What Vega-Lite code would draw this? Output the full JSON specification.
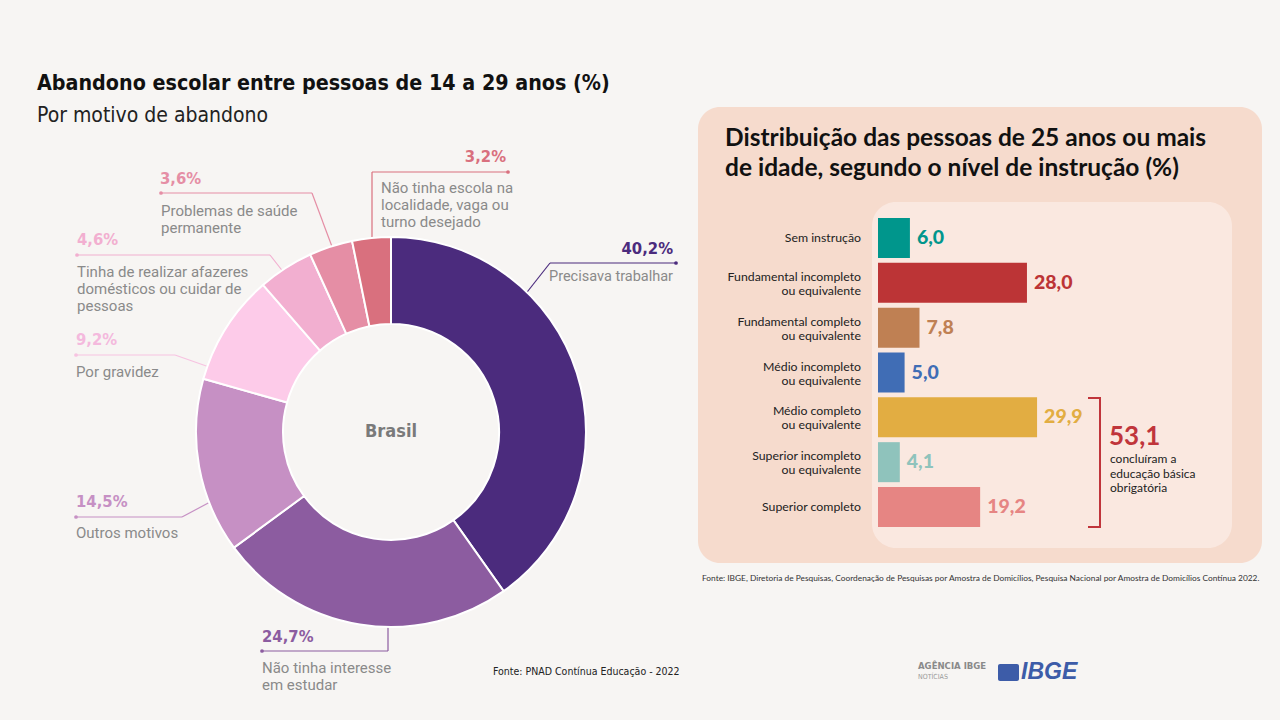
{
  "$schema": "https://vega.github.io/schema/vega-lite/v6.json",
  "width": 1280,
  "height": 720,
  "autosize": {"type": "fit", "contains": "padding"},
  "padding": 0,
  "background": "#f7f5f3",
  "config": {
    "view": {"stroke": null},
    "axis": {"disable": true},
    "legend": {"disable": true}
  },
  "datasets": {
    "motivos": [
      {"id": "trabalhar", "motivo": "Precisava trabalhar", "valor": 40.2, "ordem": 1, "rotulo": "40,2%", "descricao": "Precisava trabalhar"},
      {"id": "interesse", "motivo": "Não tinha interesse em estudar", "valor": 24.7, "ordem": 2, "rotulo": "24,7%", "descricao": "Não tinha interesse\nem estudar"},
      {"id": "outros", "motivo": "Outros motivos", "valor": 14.5, "ordem": 3, "rotulo": "14,5%", "descricao": "Outros motivos"},
      {"id": "gravidez", "motivo": "Por gravidez", "valor": 9.2, "ordem": 4, "rotulo": "9,2%", "descricao": "Por gravidez"},
      {"id": "afazeres", "motivo": "Tinha de realizar afazeres domésticos ou cuidar de pessoas", "valor": 4.6, "ordem": 5, "rotulo": "4,6%", "descricao": "Tinha de realizar afazeres\ndomésticos ou cuidar de\npessoas"},
      {"id": "saude", "motivo": "Problemas de saúde permanente", "valor": 3.6, "ordem": 6, "rotulo": "3,6%", "descricao": "Problemas de saúde\npermanente"},
      {"id": "escola", "motivo": "Não tinha escola na localidade, vaga ou turno desejado", "valor": 3.2, "ordem": 7, "rotulo": "3,2%", "descricao": "Não tinha escola na\nlocalidade, vaga ou\nturno desejado"}
    ],
    "niveis": [
      {"nivel": "Sem instrução", "valor": 6.0, "rotulo": "6,0"},
      {"nivel": "Fundamental incompleto\nou equivalente", "valor": 28.0, "rotulo": "28,0"},
      {"nivel": "Fundamental completo\nou equivalente", "valor": 7.8, "rotulo": "7,8"},
      {"nivel": "Médio incompleto\nou equivalente", "valor": 5.0, "rotulo": "5,0"},
      {"nivel": "Médio completo\nou equivalente", "valor": 29.9, "rotulo": "29,9"},
      {"nivel": "Superior incompleto\nou equivalente", "valor": 4.1, "rotulo": "4,1"},
      {"nivel": "Superior completo", "valor": 19.2, "rotulo": "19,2"}
    ]
  },
  "resolve": {"scale": {"x": "independent", "y": "independent", "color": "independent"}},
  "layer": [
    {
      "data": {"values": [{}]},
      "layer": [
        {"mark": {"type": "rect", "color": "#f6dbcd", "cornerRadius": 22},
         "encoding": {
           "x": {"datum": 698, "type": "quantitative", "scale": {"domain": [0, 1280], "nice": false, "zero": false}},
           "x2": {"datum": 1262},
           "y": {"datum": 107, "type": "quantitative", "scale": {"domain": [0, 720], "nice": false, "zero": false, "reverse": true}},
           "y2": {"datum": 563}}},
        {"mark": {"type": "rect", "color": "#fae8e0", "cornerRadius": 24},
         "encoding": {"x": {"datum": 872, "type": "quantitative"}, "x2": {"datum": 1232}, "y": {"datum": 202, "type": "quantitative"}, "y2": {"datum": 548}}},

        {"mark": {"type": "rule", "color": "#d9707e", "strokeWidth": 1.2}, "encoding": {"x": {"datum": 508, "type": "quantitative"}, "x2": {"datum": 372}, "y": {"datum": 172, "type": "quantitative"}, "y2": {"datum": 172}}},
        {"mark": {"type": "rule", "color": "#d9707e", "strokeWidth": 1.2}, "encoding": {"x": {"datum": 372, "type": "quantitative"}, "x2": {"datum": 372}, "y": {"datum": 172, "type": "quantitative"}, "y2": {"datum": 245}}},
        {"mark": {"type": "rule", "color": "#e58ea5", "strokeWidth": 1.2}, "encoding": {"x": {"datum": 161, "type": "quantitative"}, "x2": {"datum": 312}, "y": {"datum": 193, "type": "quantitative"}, "y2": {"datum": 193}}},
        {"mark": {"type": "rule", "color": "#e58ea5", "strokeWidth": 1.2}, "encoding": {"x": {"datum": 312, "type": "quantitative"}, "x2": {"datum": 334}, "y": {"datum": 193, "type": "quantitative"}, "y2": {"datum": 252}}},
        {"mark": {"type": "rule", "color": "#f2afd0", "strokeWidth": 1.2}, "encoding": {"x": {"datum": 77, "type": "quantitative"}, "x2": {"datum": 270}, "y": {"datum": 255, "type": "quantitative"}, "y2": {"datum": 255}}},
        {"mark": {"type": "rule", "color": "#f2afd0", "strokeWidth": 1.2}, "encoding": {"x": {"datum": 270, "type": "quantitative"}, "x2": {"datum": 288}, "y": {"datum": 255, "type": "quantitative"}, "y2": {"datum": 278}}},
        {"mark": {"type": "rule", "color": "#f7c3e1", "strokeWidth": 1.2}, "encoding": {"x": {"datum": 76, "type": "quantitative"}, "x2": {"datum": 175}, "y": {"datum": 355, "type": "quantitative"}, "y2": {"datum": 355}}},
        {"mark": {"type": "rule", "color": "#f7c3e1", "strokeWidth": 1.2}, "encoding": {"x": {"datum": 175, "type": "quantitative"}, "x2": {"datum": 212}, "y": {"datum": 355, "type": "quantitative"}, "y2": {"datum": 368}}},
        {"mark": {"type": "rule", "color": "#c690c4", "strokeWidth": 1.2}, "encoding": {"x": {"datum": 76, "type": "quantitative"}, "x2": {"datum": 182}, "y": {"datum": 517, "type": "quantitative"}, "y2": {"datum": 517}}},
        {"mark": {"type": "rule", "color": "#c690c4", "strokeWidth": 1.2}, "encoding": {"x": {"datum": 182, "type": "quantitative"}, "x2": {"datum": 212}, "y": {"datum": 517, "type": "quantitative"}, "y2": {"datum": 501}}},
        {"mark": {"type": "rule", "color": "#8c5ca0", "strokeWidth": 1.2}, "encoding": {"x": {"datum": 262, "type": "quantitative"}, "x2": {"datum": 388}, "y": {"datum": 651, "type": "quantitative"}, "y2": {"datum": 651}}},
        {"mark": {"type": "rule", "color": "#8c5ca0", "strokeWidth": 1.2}, "encoding": {"x": {"datum": 388, "type": "quantitative"}, "x2": {"datum": 388}, "y": {"datum": 651, "type": "quantitative"}, "y2": {"datum": 622}}},
        {"mark": {"type": "rule", "color": "#4b2b7d", "strokeWidth": 1.2}, "encoding": {"x": {"datum": 676, "type": "quantitative"}, "x2": {"datum": 550}, "y": {"datum": 263, "type": "quantitative"}, "y2": {"datum": 263}}},
        {"mark": {"type": "rule", "color": "#4b2b7d", "strokeWidth": 1.2}, "encoding": {"x": {"datum": 550, "type": "quantitative"}, "x2": {"datum": 524}, "y": {"datum": 263, "type": "quantitative"}, "y2": {"datum": 296}}},

        {"mark": {"type": "point", "filled": true, "opacity": 1, "size": 14, "color": "#d9707e"}, "encoding": {"x": {"datum": 508, "type": "quantitative"}, "y": {"datum": 172, "type": "quantitative"}}},
        {"mark": {"type": "point", "filled": true, "opacity": 1, "size": 14, "color": "#e58ea5"}, "encoding": {"x": {"datum": 161, "type": "quantitative"}, "y": {"datum": 193, "type": "quantitative"}}},
        {"mark": {"type": "point", "filled": true, "opacity": 1, "size": 14, "color": "#f2afd0"}, "encoding": {"x": {"datum": 77, "type": "quantitative"}, "y": {"datum": 255, "type": "quantitative"}}},
        {"mark": {"type": "point", "filled": true, "opacity": 1, "size": 14, "color": "#f7c3e1"}, "encoding": {"x": {"datum": 76, "type": "quantitative"}, "y": {"datum": 355, "type": "quantitative"}}},
        {"mark": {"type": "point", "filled": true, "opacity": 1, "size": 14, "color": "#c690c4"}, "encoding": {"x": {"datum": 76, "type": "quantitative"}, "y": {"datum": 517, "type": "quantitative"}}},
        {"mark": {"type": "point", "filled": true, "opacity": 1, "size": 14, "color": "#8c5ca0"}, "encoding": {"x": {"datum": 262, "type": "quantitative"}, "y": {"datum": 651, "type": "quantitative"}}},
        {"mark": {"type": "point", "filled": true, "opacity": 1, "size": 14, "color": "#4b2b7d"}, "encoding": {"x": {"datum": 676, "type": "quantitative"}, "y": {"datum": 263, "type": "quantitative"}}},

        {"data": {"name": "motivos"},
         "mark": {"type": "arc", "outerRadius": 195, "innerRadius": 108, "stroke": "#ffffff", "strokeWidth": 2},
         "encoding": {
           "x": {"datum": 391, "type": "quantitative"},
           "y": {"datum": 432, "type": "quantitative"},
           "theta": {"field": "valor", "type": "quantitative", "stack": true},
           "order": {"field": "ordem", "type": "quantitative"},
           "color": {"field": "motivo", "type": "nominal",
             "scale": {
               "domain": ["Precisava trabalhar", "Não tinha interesse em estudar", "Outros motivos", "Por gravidez", "Tinha de realizar afazeres domésticos ou cuidar de pessoas", "Problemas de saúde permanente", "Não tinha escola na localidade, vaga ou turno desejado"],
               "range": ["#4b2b7d", "#8c5ca0", "#c690c4", "#fdcbe9", "#f2afd0", "#e58ea5", "#d9707e"]},
             "legend": null}}},

        {"data": {"name": "motivos"}, "transform": [{"filter": "datum.id === 'trabalhar'"}],
         "mark": {"type": "text", "align": "right", "baseline": "middle", "font": "DejaVu Sans Condensed, sans-serif", "fontWeight": "bold", "fontSize": 16.5},
         "encoding": {"x": {"datum": 673, "type": "quantitative"}, "y": {"datum": 249, "type": "quantitative"}, "text": {"field": "rotulo"}, "color": {"field": "motivo", "type": "nominal"}}},
        {"data": {"name": "motivos"}, "transform": [{"filter": "datum.id === 'interesse'"}],
         "mark": {"type": "text", "align": "left", "baseline": "middle", "font": "DejaVu Sans Condensed, sans-serif", "fontWeight": "bold", "fontSize": 16.5},
         "encoding": {"x": {"datum": 262, "type": "quantitative"}, "y": {"datum": 637, "type": "quantitative"}, "text": {"field": "rotulo"}, "color": {"field": "motivo", "type": "nominal"}}},
        {"data": {"name": "motivos"}, "transform": [{"filter": "datum.id === 'outros'"}],
         "mark": {"type": "text", "align": "left", "baseline": "middle", "font": "DejaVu Sans Condensed, sans-serif", "fontWeight": "bold", "fontSize": 16.5},
         "encoding": {"x": {"datum": 76, "type": "quantitative"}, "y": {"datum": 502, "type": "quantitative"}, "text": {"field": "rotulo"}, "color": {"field": "motivo", "type": "nominal"}}},
        {"data": {"name": "motivos"}, "transform": [{"filter": "datum.id === 'gravidez'"}],
         "mark": {"type": "text", "align": "left", "baseline": "middle", "font": "DejaVu Sans Condensed, sans-serif", "fontWeight": "bold", "fontSize": 16.5, "color": "#f4b9dd"},
         "encoding": {"x": {"datum": 76, "type": "quantitative"}, "y": {"datum": 340, "type": "quantitative"}, "text": {"field": "rotulo"}}},
        {"data": {"name": "motivos"}, "transform": [{"filter": "datum.id === 'afazeres'"}],
         "mark": {"type": "text", "align": "left", "baseline": "middle", "font": "DejaVu Sans Condensed, sans-serif", "fontWeight": "bold", "fontSize": 16.5},
         "encoding": {"x": {"datum": 77, "type": "quantitative"}, "y": {"datum": 240, "type": "quantitative"}, "text": {"field": "rotulo"}, "color": {"field": "motivo", "type": "nominal"}}},
        {"data": {"name": "motivos"}, "transform": [{"filter": "datum.id === 'saude'"}],
         "mark": {"type": "text", "align": "left", "baseline": "middle", "font": "DejaVu Sans Condensed, sans-serif", "fontWeight": "bold", "fontSize": 16.5},
         "encoding": {"x": {"datum": 160, "type": "quantitative"}, "y": {"datum": 179, "type": "quantitative"}, "text": {"field": "rotulo"}, "color": {"field": "motivo", "type": "nominal"}}},
        {"data": {"name": "motivos"}, "transform": [{"filter": "datum.id === 'escola'"}],
         "mark": {"type": "text", "align": "right", "baseline": "middle", "font": "DejaVu Sans Condensed, sans-serif", "fontWeight": "bold", "fontSize": 16.5},
         "encoding": {"x": {"datum": 506, "type": "quantitative"}, "y": {"datum": 157, "type": "quantitative"}, "text": {"field": "rotulo"}, "color": {"field": "motivo", "type": "nominal"}}},

        {"data": {"name": "motivos"}, "transform": [{"filter": "datum.id === 'trabalhar'"}],
         "mark": {"type": "text", "align": "right", "baseline": "top", "font": "Roboto", "fontSize": 14.5, "lineHeight": 17, "lineBreak": "\n", "color": "#8a8a8a"},
         "encoding": {"x": {"datum": 673, "type": "quantitative"}, "y": {"datum": 270, "type": "quantitative"}, "text": {"field": "descricao"}}},
        {"data": {"name": "motivos"}, "transform": [{"filter": "datum.id === 'interesse'"}],
         "mark": {"type": "text", "align": "left", "baseline": "top", "font": "Roboto", "fontSize": 15, "lineHeight": 17, "lineBreak": "\n", "color": "#8a8a8a"},
         "encoding": {"x": {"datum": 262, "type": "quantitative"}, "y": {"datum": 661, "type": "quantitative"}, "text": {"field": "descricao"}}},
        {"data": {"name": "motivos"}, "transform": [{"filter": "datum.id === 'outros'"}],
         "mark": {"type": "text", "align": "left", "baseline": "top", "font": "Roboto", "fontSize": 15, "lineHeight": 17, "lineBreak": "\n", "color": "#8a8a8a"},
         "encoding": {"x": {"datum": 76, "type": "quantitative"}, "y": {"datum": 526, "type": "quantitative"}, "text": {"field": "descricao"}}},
        {"data": {"name": "motivos"}, "transform": [{"filter": "datum.id === 'gravidez'"}],
         "mark": {"type": "text", "align": "left", "baseline": "top", "font": "Roboto", "fontSize": 15, "lineHeight": 17, "lineBreak": "\n", "color": "#8a8a8a"},
         "encoding": {"x": {"datum": 76, "type": "quantitative"}, "y": {"datum": 365, "type": "quantitative"}, "text": {"field": "descricao"}}},
        {"data": {"name": "motivos"}, "transform": [{"filter": "datum.id === 'afazeres'"}],
         "mark": {"type": "text", "align": "left", "baseline": "top", "font": "Roboto", "fontSize": 15, "lineHeight": 17, "lineBreak": "\n", "color": "#8a8a8a"},
         "encoding": {"x": {"datum": 77, "type": "quantitative"}, "y": {"datum": 265, "type": "quantitative"}, "text": {"field": "descricao"}}},
        {"data": {"name": "motivos"}, "transform": [{"filter": "datum.id === 'saude'"}],
         "mark": {"type": "text", "align": "left", "baseline": "top", "font": "Roboto", "fontSize": 15, "lineHeight": 17, "lineBreak": "\n", "color": "#8a8a8a"},
         "encoding": {"x": {"datum": 161, "type": "quantitative"}, "y": {"datum": 204, "type": "quantitative"}, "text": {"field": "descricao"}}},
        {"data": {"name": "motivos"}, "transform": [{"filter": "datum.id === 'escola'"}],
         "mark": {"type": "text", "align": "left", "baseline": "top", "font": "Roboto", "fontSize": 15, "lineHeight": 17, "lineBreak": "\n", "color": "#8a8a8a"},
         "encoding": {"x": {"datum": 381, "type": "quantitative"}, "y": {"datum": 181, "type": "quantitative"}, "text": {"field": "descricao"}}},

        {"mark": {"type": "text", "align": "left", "baseline": "middle", "font": "DejaVu Sans Condensed, sans-serif", "fontWeight": "bold", "fontSize": 21.3, "color": "#111111"},
         "encoding": {"x": {"datum": 37, "type": "quantitative"}, "y": {"datum": 84, "type": "quantitative"}, "text": {"value": "Abandono escolar entre pessoas de 14 a 29 anos (%)"}}},
        {"mark": {"type": "text", "align": "left", "baseline": "middle", "font": "DejaVu Sans Condensed, sans-serif", "fontSize": 21, "color": "#222222"},
         "encoding": {"x": {"datum": 37, "type": "quantitative"}, "y": {"datum": 116, "type": "quantitative"}, "text": {"value": "Por motivo de abandono"}}},
        {"mark": {"type": "text", "align": "center", "baseline": "middle", "font": "DejaVu Sans Condensed, sans-serif", "fontWeight": "bold", "fontSize": 18, "color": "#7a7a7a"},
         "encoding": {"x": {"datum": 391, "type": "quantitative"}, "y": {"datum": 432, "type": "quantitative"}, "text": {"value": "Brasil"}}},
        {"mark": {"type": "text", "align": "left", "baseline": "middle", "font": "DejaVu Sans Condensed, sans-serif", "fontSize": 10.5, "color": "#222222"},
         "encoding": {"x": {"datum": 493, "type": "quantitative"}, "y": {"datum": 672, "type": "quantitative"}, "text": {"value": "Fonte: PNAD Contínua Educação - 2022"}}},

        {"mark": {"type": "text", "align": "left", "baseline": "top", "font": "Lato", "fontWeight": "bold", "fontSize": 24.5, "lineHeight": 30, "lineBreak": "\n", "color": "#111111"},
         "encoding": {"x": {"datum": 725, "type": "quantitative"}, "y": {"datum": 127, "type": "quantitative"}, "text": {"value": "Distribuição das pessoas de 25 anos ou mais\nde idade, segundo o nível de instrução (%)"}}},

        {"mark": {"type": "rule", "color": "#c0353b", "strokeWidth": 2}, "encoding": {"x": {"datum": 1088, "type": "quantitative"}, "x2": {"datum": 1100}, "y": {"datum": 398, "type": "quantitative"}, "y2": {"datum": 398}}},
        {"mark": {"type": "rule", "color": "#c0353b", "strokeWidth": 2}, "encoding": {"x": {"datum": 1100, "type": "quantitative"}, "x2": {"datum": 1100}, "y": {"datum": 397, "type": "quantitative"}, "y2": {"datum": 528}}},
        {"mark": {"type": "rule", "color": "#c0353b", "strokeWidth": 2}, "encoding": {"x": {"datum": 1088, "type": "quantitative"}, "x2": {"datum": 1100}, "y": {"datum": 527, "type": "quantitative"}, "y2": {"datum": 527}}},
        {"mark": {"type": "text", "align": "left", "baseline": "middle", "font": "Lato", "fontWeight": "bold", "fontSize": 26, "color": "#c0353b"},
         "encoding": {"x": {"datum": 1109, "type": "quantitative"}, "y": {"datum": 437, "type": "quantitative"}, "text": {"value": "53,1"}}},
        {"mark": {"type": "text", "align": "left", "baseline": "top", "font": "Lato", "fontSize": 12, "lineHeight": 14.5, "lineBreak": "\n", "color": "#222222"},
         "encoding": {"x": {"datum": 1110, "type": "quantitative"}, "y": {"datum": 454, "type": "quantitative"}, "text": {"value": "concluíram a\neducação básica\nobrigatória"}}},
        {"mark": {"type": "text", "align": "left", "baseline": "middle", "font": "Lato", "fontSize": 8.35, "color": "#333333"},
         "encoding": {"x": {"datum": 702, "type": "quantitative"}, "y": {"datum": 578, "type": "quantitative"}, "text": {"value": "Fonte: IBGE, Diretoria de Pesquisas, Coordenação de Pesquisas por Amostra de Domicílios, Pesquisa Nacional por Amostra de Domicílios Contínua 2022."}}},

        {"mark": {"type": "text", "align": "left", "baseline": "middle", "font": "DejaVu Sans Condensed, sans-serif", "fontWeight": "bold", "fontSize": 9.5, "color": "#8a8a8a"},
         "encoding": {"x": {"datum": 918, "type": "quantitative"}, "y": {"datum": 666, "type": "quantitative"}, "text": {"value": "AGÊNCIA IBGE"}}},
        {"mark": {"type": "text", "align": "left", "baseline": "middle", "font": "DejaVu Sans Condensed, sans-serif", "fontSize": 7, "color": "#9a9a9a"},
         "encoding": {"x": {"datum": 918, "type": "quantitative"}, "y": {"datum": 677, "type": "quantitative"}, "text": {"value": "NOTÍCIAS"}}},
        {"mark": {"type": "rect", "color": "#3d5ca8", "cornerRadius": 2},
         "encoding": {"x": {"datum": 998, "type": "quantitative"}, "x2": {"datum": 1019}, "y": {"datum": 664, "type": "quantitative"}, "y2": {"datum": 681}}},
        {"mark": {"type": "text", "align": "left", "baseline": "middle", "font": "Liberation Sans", "fontWeight": "bold", "fontStyle": "italic", "fontSize": 23, "color": "#3d5ca8"},
         "encoding": {"x": {"datum": 1021, "type": "quantitative"}, "y": {"datum": 672, "type": "quantitative"}, "text": {"value": "IBGE"}}}
      ]
    },
    {
      "data": {"name": "niveis"},
      "encoding": {
        "y": {"field": "nivel", "type": "nominal", "sort": null,
          "scale": {"domain": ["Sem instrução", "Fundamental incompleto\nou equivalente", "Fundamental completo\nou equivalente", "Médio incompleto\nou equivalente", "Médio completo\nou equivalente", "Superior incompleto\nou equivalente", "Superior completo"],
            "range": [218, 527], "paddingInner": 0.108, "paddingOuter": 0},
          "axis": null}
      },
      "layer": [
        {"mark": {"type": "bar"},
         "encoding": {
           "x": {"field": "valor", "type": "quantitative", "scale": {"domain": [0, 30], "range": [878, 1037.6], "nice": false, "zero": true}, "axis": null},
           "color": {"field": "nivel", "type": "nominal",
             "scale": {"domain": ["Sem instrução", "Fundamental incompleto\nou equivalente", "Fundamental completo\nou equivalente", "Médio incompleto\nou equivalente", "Médio completo\nou equivalente", "Superior incompleto\nou equivalente", "Superior completo"],
               "range": ["#00968c", "#bc3436", "#bf8053", "#406db5", "#e2ad42", "#8fc3bc", "#e68583"]},
             "legend": null}}},
        {"mark": {"type": "text", "align": "left", "baseline": "middle", "dx": 7, "font": "Lato", "fontWeight": 900, "fontSize": 19.5},
         "encoding": {
           "x": {"field": "valor", "type": "quantitative"},
           "text": {"field": "rotulo"},
           "color": {"field": "nivel", "type": "nominal"}}},
        {"transform": [{"filter": "indexof(datum.nivel, '\\n') < 0"}],
         "mark": {"type": "text", "align": "right", "baseline": "middle", "dx": -17, "font": "Lato", "fontSize": 12.3, "lineHeight": 14, "lineBreak": "\n", "color": "#222222"},
         "encoding": {
           "x": {"datum": 0, "type": "quantitative"},
           "text": {"field": "nivel"}}},
        {"transform": [{"filter": "indexof(datum.nivel, '\\n') >= 0"}],
         "mark": {"type": "text", "align": "right", "baseline": "middle", "dx": -17, "dy": -6, "font": "Lato", "fontSize": 12.3, "lineHeight": 14, "lineBreak": "\n", "color": "#222222"},
         "encoding": {
           "x": {"datum": 0, "type": "quantitative"},
           "text": {"field": "nivel"}}}
      ]
    }
  ]
}
